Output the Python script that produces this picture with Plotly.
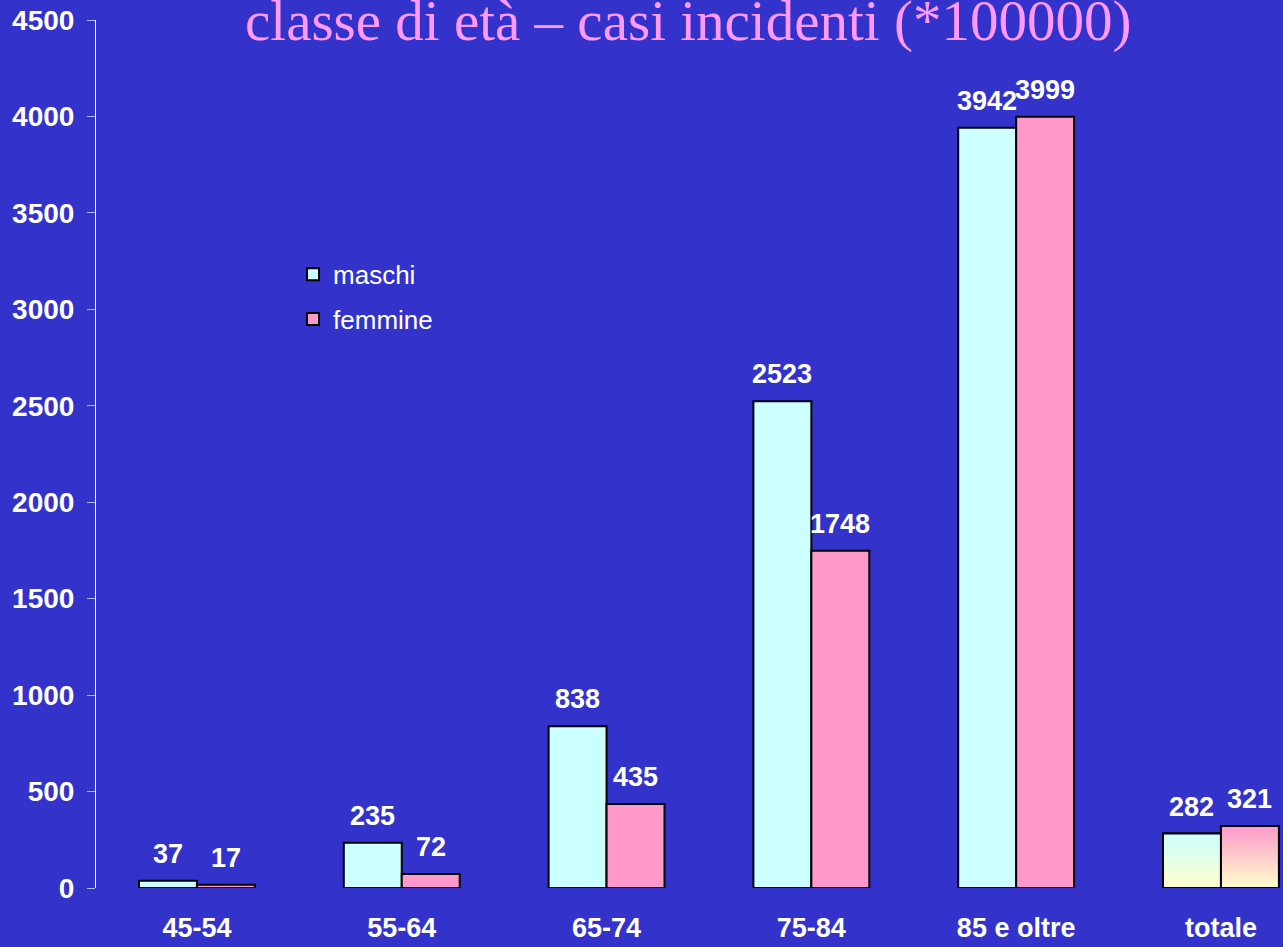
import plotly.graph_objects as go

categories = ["45-54", "55-64", "65-74", "75-84", "85 e oltre", "totale"]
maschi = [37, 235, 838, 2523, 3942, 282]
femmine = [17, 72, 435, 1748, 3999, 321]
y_ticks = [0, 500, 1000, 1500, 2000, 2500, 3000, 3500, 4000, 4500]
title_text = "classe di età – casi incidenti (*100000)"

BG = "#3333CC"
CYAN = "#CCFFFF"
PINK = "#FF99CC"
YELLOW = "#FFFFCC"
FONT = "Arial, Liberation Sans, sans-serif"

bargap = 0.434
bw = (1 - bargap) / 2
xs = list(range(len(categories)))
tot_idx = len(categories) - 1

fig = go.Figure()
fig.add_trace(go.Bar(x=xs, y=maschi, name="maschi",
                     marker=dict(color=CYAN, line=dict(color="black", width=2)),
                     legendgroup="m"))
fig.add_trace(go.Bar(x=xs, y=femmine, name="femmine",
                     marker=dict(color=PINK, line=dict(color="black", width=2)),
                     legendgroup="f"))

# gradient overlay for the "totale" bars
for vals, off, top in [(maschi, -bw, CYAN), (femmine, 0, PINK)]:
    x0 = tot_idx + off
    x1 = x0 + bw
    v = vals[tot_idx]
    fig.add_trace(go.Scatter(
        x=[x0, x0, x1, x1, x0], y=[0, v, v, 0, 0], mode="lines",
        fill="toself",
        fillgradient=dict(type="vertical", colorscale=[[0, YELLOW], [1, top]]),
        line=dict(color="black", width=2), showlegend=False, hoverinfo="skip"))

for vals, off in [(maschi, -bw / 2), (femmine, bw / 2)]:
    for i, v in enumerate(vals):
        fig.add_annotation(x=i + off, y=v, text=str(v), showarrow=False,
                           yanchor="middle", yshift=27,
                           font=dict(family=FONT, size=27, color="white", weight="bold"))

fig.add_annotation(xref="paper", yref="paper", x=0.4987, y=1, yanchor="bottom",
                   yshift=-35, text=title_text, showarrow=False,
                   font=dict(family="Liberation Serif, Times New Roman, serif", size=57, color="#FF99FF"))

fig.update_layout(
    width=1283, height=947,
    paper_bgcolor=BG, plot_bgcolor=BG,
    margin=dict(l=96, r=0, t=20, b=59),
    barmode="group", bargap=bargap, bargroupgap=0,
    showlegend=True,
    legend=dict(x=0.166, y=0.734, xanchor="left", yanchor="top",
                bgcolor="rgba(0,0,0,0)", tracegroupgap=8,
                font=dict(family=FONT, size=26, color="white")),
    xaxis=dict(range=[-0.493, 5.303], tickvals=xs, ticktext=categories,
               showgrid=False, zeroline=False, showline=False,
               ticks="outside", ticklen=16, tickcolor=BG,
               tickfont=dict(family=FONT, size=27, color="white", weight="bold")),
    yaxis=dict(range=[0, 4500], tickvals=y_ticks, showgrid=False, zeroline=False,
               showline=True, linecolor="white", linewidth=1,
               ticks="outside", ticklen=8, tickcolor="#B8B8E8",
               ticklabelstandoff=7,
               tickfont=dict(family=FONT, size=28, color="white", weight="bold")),
)

fig.write_html("out.html", config={"displayModeBar": False},
               post_script="document.body.style.margin='0';document.body.style.overflow='hidden';")
